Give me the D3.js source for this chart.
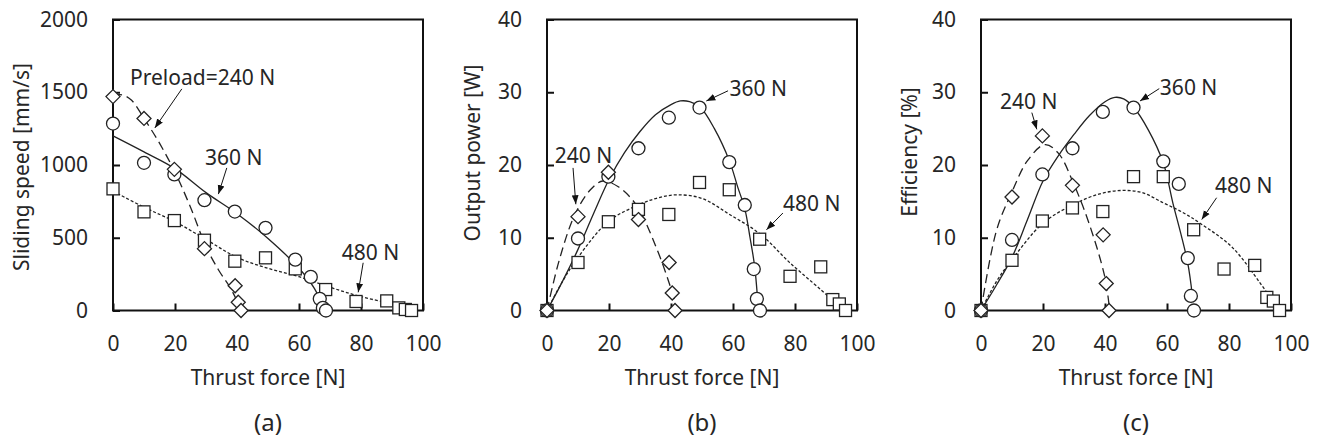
<!DOCTYPE html>
<html>
<head>
<meta charset="utf-8">
<script src="https://cdn.jsdelivr.net/npm/d3@7"></script>
<style>
  body { margin: 0; background: #fff; }
  text { font-family: "Noto Sans", "Open Sans", sans-serif; fill: #262626; }
</style>
</head>
<body>
<div id="chart"></div>
<script>
var svgWidth = 1326;
var svgHeight = 442;

// thrust force of the measured points [N]
var force240 = [0, 10, 19.8, 29.5, 39.4, 40.4, 41.3];
var force360 = [0, 10, 19.8, 29.5, 39.3, 49.2, 58.8, 63.8, 66.7, 67.7, 68.7];
var force480 = [0, 10, 19.8, 29.5, 39.3, 49.2, 58.8, 68.6, 78.4, 88.3, 92.2, 94.3, 96.3];

// (a) sliding speed [mm/s]
var speed240 = [1470, 1320, 970, 425, 170, 57, 0];
var speed360 = [1285, 1015, 935, 758, 680, 568, 350, 231, 80, 18, 0];
var speed480 = [836, 678, 618, 483, 339, 362, 286, 144, 62, 66, 18, 7, 0];

// (b) output power [W]
var power240 = [0, 12.9, 19.0, 12.5, 6.6, 2.4, 0];
var power360 = [0, 9.9, 18.4, 22.3, 26.5, 27.9, 20.4, 14.5, 5.7, 1.6, 0];
var power480 = [0, 6.6, 12.2, 13.9, 13.2, 17.6, 16.6, 9.8, 4.7, 6.0, 1.5, 0.9, 0];

// (c) efficiency [%]
var eff240 = [0, 15.6, 24.0, 17.2, 10.4, 3.7, 0];
var eff360 = [0, 9.7, 18.7, 22.3, 27.3, 27.9, 20.5, 17.4, 7.2, 2.0, 0];
var eff480 = [0, 6.9, 12.3, 14.1, 13.6, 18.4, 18.4, 11.1, 5.7, 6.2, 1.8, 1.3, 0];

// fitted curves, [force, value]
var speedFit240 = [[0,1478],[3,1482],[6,1445],[10,1320],[15,1150],[20,950],[25,710],[30,440],[34,280],[38,150],[41.5,0]];
var speedFit360 = [[0,1200],[10,1090],[20,975],[30,810],[40,665],[50,495],[60,290],[65,150],[68,10]];
var speedFit480 = [[0,820],[10,710],[20,610],[30,488],[40,365],[50,290],[60,232],[70,160],[80,95],[90,45],[96.5,0]];

var powerFit240 = [[0,0],[4,7],[9,13.2],[14,16.6],[18,17.8],[23,17],[28.8,14.5],[35.3,8.6],[40,3],[42,0]];
var powerFit360 = [[0,0],[5,4],[10,8.4],[15,13.3],[20,18],[25,21.7],[30,24.6],[35,26.9],[40,28.3],[43,28.8],[46,28.7],[49.5,27.9],[54,25],[58.9,20.5],[61.5,17],[63.8,14],[65.5,10],[67,6],[68.2,0]];
var powerFit480 = [[0,0],[5,4],[10,7.3],[20,12.3],[30,14.6],[36,15.5],[42,15.9],[50,15.4],[58.9,13.2],[68.8,10.5],[78.5,6.5],[88.5,2.8],[94.4,0.5],[96,0]];

var effFit240 = [[0,0],[5,11],[10,16.3],[15,20.6],[20.6,22.8],[25,21.6],[30,17.3],[35,11.8],[40,4.5],[41.5,0]];
var effFit360 = [[0,0],[5,3.5],[10,7.3],[15,12.5],[20,17.8],[25,21.3],[30,24.2],[35,26.8],[40,28.7],[43.2,29.3],[46,29.1],[49.1,28],[54,24.8],[58.8,20.3],[62,14.6],[64.5,10.5],[66.7,6.5],[68.2,2]];
var effFit480 = [[0,0],[5,4],[10,7],[20,12],[29.5,14.5],[38,16],[45.4,16.5],[52,16.2],[58.8,14.8],[65,13.5],[71,11.9],[81,8.7],[90,3.8],[94.5,1],[96,0]];

// tick labels
var xTicks = [0, 20, 40, 60, 80, 100];
var speedTicks = [0, 500, 1000, 1500, 2000];
var pctTicks = [0, 10, 20, 30, 40];

var plotTop = 19.5;
var plotBottom = 310.5;
var plotW = 310;

var panels = [
  {
    name: "(a)", left: 113, yMax: 2000, yTicks: speedTicks,
    yTitle: "Sliding speed [mm/s]", titleX: 22, titleY: 167,
    series: [
      {force: force480, vals: speed480, fit: speedFit480, type: "square"},
      {force: force360, vals: speed360, fit: speedFit360, type: "circle"},
      {force: force240, vals: speed240, fit: speedFit240, type: "diamond"}
    ],
    notes: [
      {text: "Preload=240 N", tx: 5.5, ty: 1552, from: [22.2, 1523], to: [13.5, 1255]},
      {text: "360 N", tx: 29.7, ty: 1003, from: [36.7, 980], to: [34, 800]},
      {text: "480 N", tx: 73.8, ty: 350, from: [80.7, 328], to: [79.1, 125]}
    ]
  },
  {
    name: "(b)", left: 547, yMax: 40, yTicks: pctTicks,
    yTitle: "Output power [W]", titleX: 473, titleY: 153,
    series: [
      {force: force480, vals: power480, fit: powerFit480, type: "square"},
      {force: force360, vals: power360, fit: powerFit360, type: "circle"},
      {force: force240, vals: power240, fit: powerFit240, type: "diamond"}
    ],
    notes: [
      {text: "360 N", tx: 58.9, ty: 29.5, from: [58.4, 30.2], to: [51.4, 28.8]},
      {text: "240 N", tx: 2.5, ty: 20.3, from: [8.4, 19.6], to: [9.3, 14.6]},
      {text: "480 N", tx: 76.1, ty: 13.7, from: [76.1, 13.4], to: [70.8, 11.1]}
    ]
  },
  {
    name: "(c)", left: 981, yMax: 40, yTicks: pctTicks,
    yTitle: "Efficiency [%]", titleX: 910, titleY: 152,
    series: [
      {force: force480, vals: eff480, fit: effFit480, type: "square"},
      {force: force360, vals: eff360, fit: effFit360, type: "circle"},
      {force: force240, vals: eff240, fit: effFit240, type: "diamond"}
    ],
    notes: [
      {text: "360 N", tx: 57.7, ty: 29.6, from: [57.5, 30.5], to: [51.3, 28.8]},
      {text: "240 N", tx: 6.1, ty: 27.7, from: [16.4, 27.2], to: [18, 24.9]},
      {text: "480 N", tx: 75.5, ty: 16.1, from: [76, 15.5], to: [71.2, 12.5]}
    ]
  }
];

var lineStyle = {
  circle: null,       // 360 N solid
  diamond: "9,5",     // 240 N dashed
  square: "3,2"       // 480 N dotted
};

var svg = d3.select("#chart")
  .append("svg")
  .attr("width", svgWidth)
  .attr("height", svgHeight);

svg.append("defs").append("marker")
  .attr("id", "arrow")
  .attr("viewBox", "0 0 10 10")
  .attr("refX", 10)
  .attr("refY", 5)
  .attr("markerWidth", 9)
  .attr("markerHeight", 9)
  .attr("markerUnits", "userSpaceOnUse")
  .attr("orient", "auto")
  .append("path")
  .attr("d", "M0,1.2 L10,5 L0,8.8 Z")
  .attr("fill", "#111");

function drawMarker(g, type) {
  if (type === "circle") {
    g.append("circle").attr("r", 6.5);
  } else if (type === "square") {
    g.append("rect").attr("x", -6).attr("y", -6).attr("width", 12).attr("height", 12);
  } else {
    g.append("path").attr("d", "M0,-7 L7,0 L0,7 L-7,0 Z");
  }
}

panels.forEach(function(p) {
  var x = d3.scaleLinear().domain([0, 100]).range([p.left, p.left + plotW]);
  var y = d3.scaleLinear().domain([0, p.yMax]).range([plotBottom, plotTop]);

  var chartGroup = svg.append("g");

  // axes with inward ticks
  var bottomAxis = d3.axisBottom(x).tickValues(xTicks).tickFormat(d3.format("d"))
    .tickSizeInner(-7).tickSizeOuter(0).tickPadding(26);
  var leftAxis = d3.axisLeft(y).tickValues(p.yTicks).tickFormat(d3.format("d"))
    .tickSizeInner(-7).tickSizeOuter(0).tickPadding(25);

  var xAxis = chartGroup.append("g")
    .attr("transform", `translate(0, ${plotBottom})`)
    .call(bottomAxis);
  var yAxis = chartGroup.append("g")
    .attr("transform", `translate(${p.left}, 0)`)
    .call(leftAxis);

  [xAxis, yAxis].forEach(function(a) {
    a.select(".domain").remove();
    a.selectAll(".tick line").attr("stroke", "#111").attr("stroke-width", 2);
    a.selectAll(".tick text")
      .attr("fill", "#262626")
      .style("font-family", "'Noto Sans', sans-serif")
      .style("font-size", "21px");
  });

  // frame
  chartGroup.append("rect")
    .attr("x", p.left)
    .attr("y", plotTop)
    .attr("width", plotW)
    .attr("height", plotBottom - plotTop)
    .attr("fill", "none")
    .attr("stroke", "#111")
    .attr("stroke-width", 2);

  // fitted curves
  var line = d3.line()
    .x(d => x(d[0]))
    .y(d => y(d[1]))
    .curve(d3.curveCatmullRom.alpha(0.5));

  p.series.forEach(function(s) {
    chartGroup.append("path")
      .datum(s.fit)
      .attr("d", line)
      .attr("fill", "none")
      .attr("stroke", "#222")
      .attr("stroke-width", 1.3)
      .attr("stroke-dasharray", lineStyle[s.type]);
  });

  // annotation arrows and labels
  p.notes.forEach(function(n) {
    chartGroup.append("line")
      .attr("x1", x(n.from[0]))
      .attr("y1", y(n.from[1]))
      .attr("x2", x(n.to[0]))
      .attr("y2", y(n.to[1]))
      .attr("stroke", "#111")
      .attr("stroke-width", 1)
      .attr("marker-end", "url(#arrow)");
    chartGroup.append("text")
      .attr("x", x(n.tx))
      .attr("y", y(n.ty))
      .attr("font-size", 21)
      .text(n.text);
  });

  // measured points
  p.series.forEach(function(s) {
    s.force.forEach(function(f, i) {
      var g = chartGroup.append("g")
        .attr("transform", `translate(${x(f)}, ${y(s.vals[i])})`)
        .attr("fill", "#fff")
        .attr("stroke", "#222")
        .attr("stroke-width", 1.3);
      drawMarker(g, s.type);
    });
  });

  // axis titles
  chartGroup.append("text")
    .attr("transform", `translate(${p.titleX}, ${p.titleY}) rotate(-90)`)
    .attr("text-anchor", "middle")
    .attr("dy", "0.35em")
    .attr("font-size", 21)
    .text(p.yTitle);

  chartGroup.append("text")
    .attr("x", p.left + plotW / 2)
    .attr("y", 378)
    .attr("text-anchor", "middle")
    .attr("dy", "0.35em")
    .attr("font-size", 21)
    .text("Thrust force [N]");

  chartGroup.append("text")
    .attr("x", p.left + plotW / 2)
    .attr("y", 423)
    .attr("text-anchor", "middle")
    .attr("dy", "0.35em")
    .attr("font-size", 24)
    .text(p.name);
});
</script>
</body>
</html>
